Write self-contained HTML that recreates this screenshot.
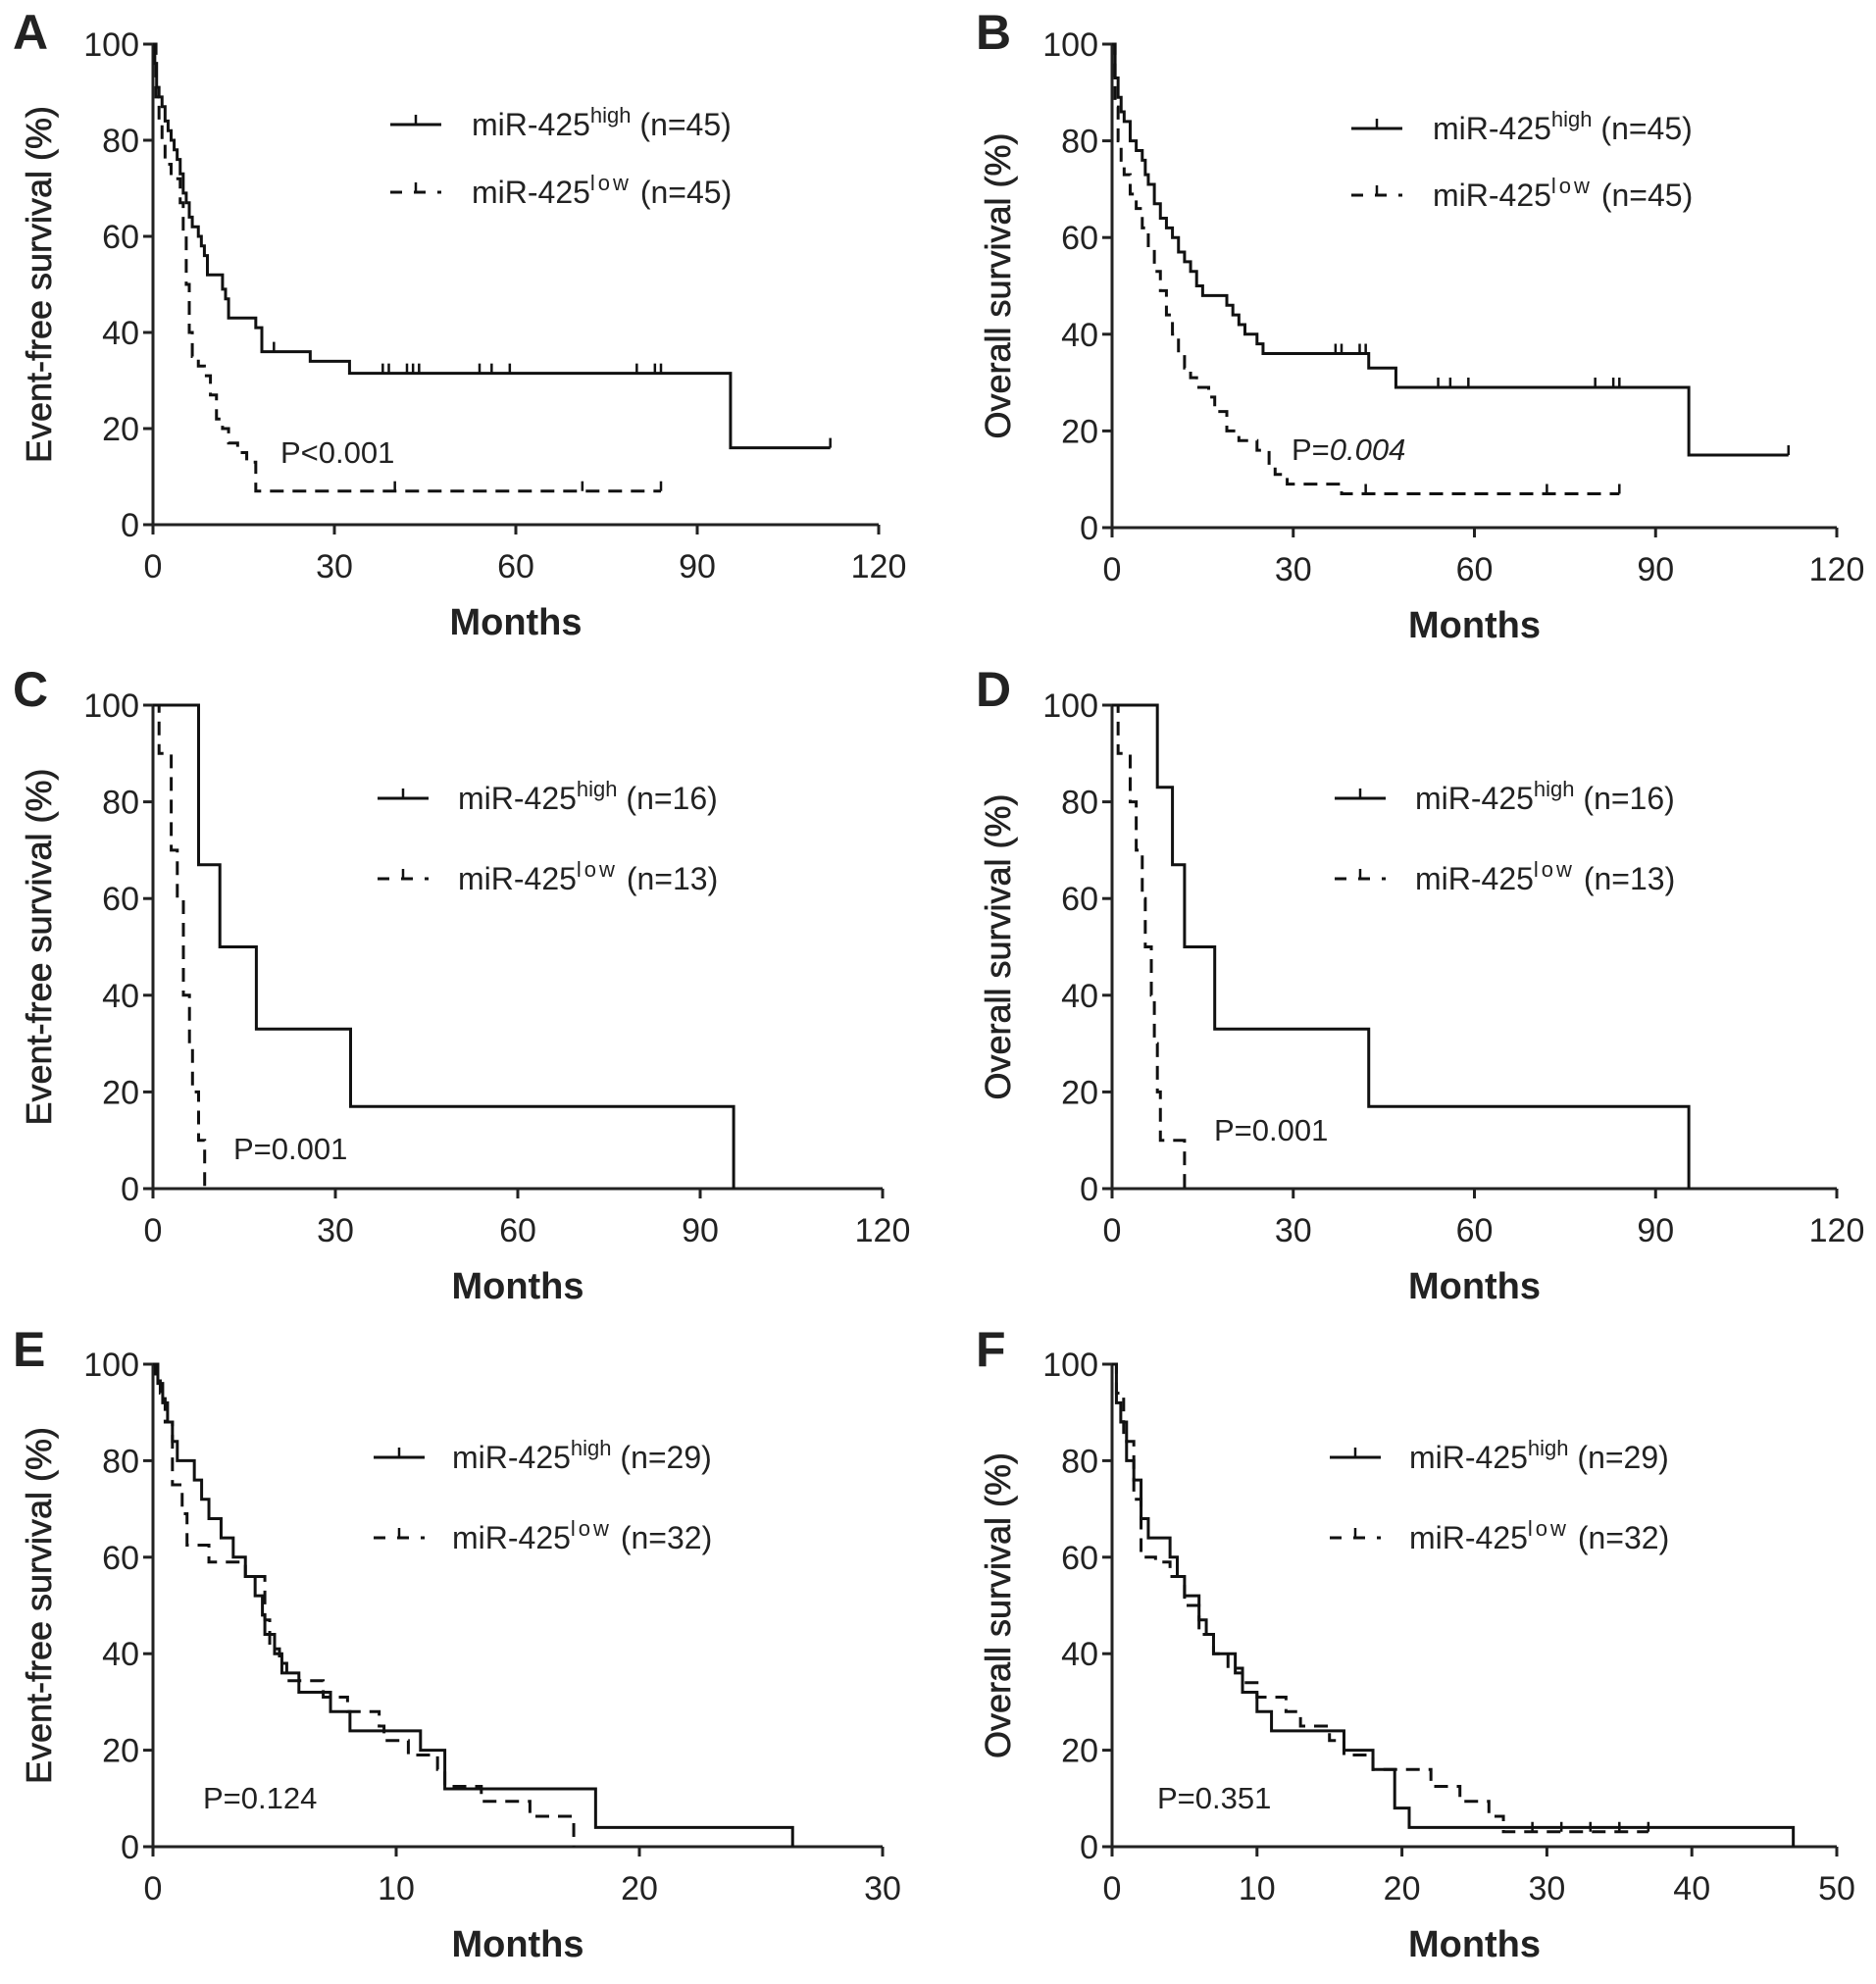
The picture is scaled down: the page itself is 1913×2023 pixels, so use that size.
<!DOCTYPE html>
<html><head><meta charset="utf-8"><style>
html,body{margin:0;padding:0;background:#fff}
svg{display:block}
text{font-family:"Liberation Sans",Arial,sans-serif;fill:#222}
</style></head><body>
<svg id="fig" width="1913" height="2023" viewBox="0 0 1913 2023" xmlns="http://www.w3.org/2000/svg"></svg>
<script>
// ---- data (time in months, survival in %) ----
const aHighT=[0,0.3,0.6,1,1.5,2,2.5,3,3.5,4,4.5,5,5.5,6,6.5,7.5,8,8.5,9,11.5,12,12.5,17,18,26,32.5,95.5];
const aHighS=[100,96,91,89,87,84,82,80,78,76,73,69,67,64,62,60,58,56,52,49,47,43,41,36,34,31.5,16];
const aHighEnd=112, aHighCens=[20,38,39,42,43,44,54,56,59,80,83,84,112];
const aLowT=[0,0.5,1,1.5,2,3,4.5,5,5.5,6,6.5,7.5,8.5,9.5,10.5,11.5,12.5,14,15.5,17];
const aLowS=[100,89,84,80,75,72,67,60,50,40,35,33,31,27,22,20,17,15,13,7];
const aLowEnd=84, aLowCens=[40,71,84];

const bHighT=[0,0.5,1,1.5,2,3,4,5,5.5,6,7,8,9,10,11,12,13,14,15,19,20,21,22,24,25,42.5,47,95.5];
const bHighS=[100,93,89,86,84,80,78,76,73,71,67,64,62,60,57,55,53,50,48,46,44,42,40,38,36,33,29,15];
const bHighEnd=112, bHighCens=[37,38,41,42,54,56,59,80,83,84,112];
const bLowT=[0,0.5,1,1.5,2,3,4,5,6,7,8,9,10,11,12,13,14,16,17,19,21,24,26,27,29,38];
const bLowS=[100,87,80,76,73,69,66,62,58,53,49,44,40,36,33,31,29,27,24,20,18,16,13,11,9,7];
const bLowEnd=84, bLowCens=[42,72,84];

const cHighT=[0,7.5,11,17,32.5,95.5];
const cHighS=[100,67,50,33,17,0];
const cHighEnd=95.5, cHighCens=[];
const cLowT=[0,1,3,4,5,6,6.5,7.5,8.5];
const cLowS=[100,90,70,60,40,30,20,10,0];
const cLowEnd=8.5, cLowCens=[];

const dHighT=[0,7.5,10,12,17,42.5,95.5];
const dHighS=[100,83,67,50,33,17,0];
const dHighEnd=95.5, dHighCens=[];
const dLowT=[0,1,3,4,5,5.5,6.5,7,7.5,8,12];
const dLowS=[100,90,80,70,60,50,40,30,20,10,0];
const dLowEnd=12, dLowCens=[];

const eHighT=[0,0.2,0.4,0.6,0.8,1,1.7,2,2.3,2.8,3.3,3.8,4.2,4.5,4.6,5,5.3,6,7.3,8.1,11,12,18.2,26.3];
const eHighS=[100,96,92,88,84,80,76,72,68,64,60,56,52,48,44,40,36,32,28,24,20,12,4,0];
const eHighEnd=26.3, eHighCens=[];
const eLowT=[0,0.1,0.3,0.5,0.8,1.2,1.4,2.3,3.8,4.6,4.8,5.2,5.5,7,8,9.3,9.5,10.5,11.7,12,13.5,15.5,17.3];
const eLowS=[100,97,94,88,75,69,62.5,59,56,47,41,38,34.4,31,28,25,22,19,16,12.5,9.4,6.3,0];
const eLowEnd=17.3, eLowCens=[];

const fHighT=[0,0.3,0.6,1,1.5,2,2.5,4,4.5,5,6,6.5,7,8.5,9,10,11,16,18,19.5,20.5,47];
const fHighS=[100,92,88,80,76,68,64,60,56,52,47,44,40,36,32,28,24,20,16,8,4,0];
const fHighEnd=47, fHighCens=[];
const fLowT=[0,0.3,0.8,1.5,2,3,4,5,6,7,8,9,10,12,13,15,16,18,22,24,26,27];
const fLowS=[100,94,84,72,60,59,56,50,44,40,37,34,31,28,25,22,19,16,12.5,9.4,6.3,3.1];
const fLowEnd=37, fLowCens=[29,31,33,35,37];

const xTicksA=[0,30,60,90,120], xTicksE=[0,10,20,30], xTicksF=[0,10,20,30,40,50];
const yTicks=[0,20,40,60,80,100];

const NS="http://www.w3.org/2000/svg";
const svg=document.getElementById('fig');
function mk(tag,attrs,parent,txt){const e=document.createElementNS(NS,tag);for(const k in attrs)e.setAttribute(k,attrs[k]);if(txt!==undefined)e.textContent=txt;(parent||svg).appendChild(e);return e;}

const panels=[
 {id:'a',L:'A',x0:156,x1:896,y100:45,y0:535,xmax:120,xt:xTicksA,yt:'Event-free survival (%)',n1:45,n2:45,leg:[398,481,127,196],p:['P<0.001',286,461,false],
  h:[aHighT,aHighS,aHighEnd,aHighCens],l:[aLowT,aLowS,aLowEnd,aLowCens],lx:13,ly:35},
 {id:'b',L:'B',x0:1134,x1:1873,y100:45,y0:538,xmax:120,xt:xTicksA,yt:'Overall survival (%)',n1:45,n2:45,leg:[1378,1461,131,199],p:['P=',1317,458,true],
  h:[bHighT,bHighS,bHighEnd,bHighCens],l:[bLowT,bLowS,bLowEnd,bLowCens],lx:995,ly:35},
 {id:'c',L:'C',x0:156,x1:900,y100:719,y0:1212,xmax:120,xt:xTicksA,yt:'Event-free survival (%)',n1:16,n2:13,leg:[385,467,814,896],p:['P=0.001',238,1171,false],
  h:[cHighT,cHighS,cHighEnd,cHighCens],l:[cLowT,cLowS,cLowEnd,cLowCens],lx:13,ly:705},
 {id:'d',L:'D',x0:1134,x1:1873,y100:719,y0:1212,xmax:120,xt:xTicksA,yt:'Overall survival (%)',n1:16,n2:13,leg:[1361,1443,814,896],p:['P=0.001',1238,1152,false],
  h:[dHighT,dHighS,dHighEnd,dHighCens],l:[dLowT,dLowS,dLowEnd,dLowCens],lx:995,ly:705},
 {id:'e',L:'E',x0:156,x1:900,y100:1391,y0:1883,xmax:30,xt:xTicksE,yt:'Event-free survival (%)',n1:29,n2:32,leg:[381,461,1486,1568],p:['P=0.124',207,1833,false],
  h:[eHighT,eHighS,eHighEnd,eHighCens],l:[eLowT,eLowS,eLowEnd,eLowCens],lx:13,ly:1378},
 {id:'f',L:'F',x0:1134,x1:1873,y100:1391,y0:1883,xmax:50,xt:xTicksF,yt:'Overall survival (%)',n1:29,n2:32,leg:[1356,1437,1486,1568],p:['P=0.351',1180,1833,false],
  h:[fHighT,fHighS,fHighEnd,fHighCens],l:[fLowT,fLowS,fLowEnd,fLowCens],lx:995,ly:1378}
];

function stepPath(T,S,end,X,Y){
  let d='M'+X(T[0])+','+Y(S[0]);
  for(let i=1;i<T.length;i++){d+=' H'+X(T[i])+' V'+Y(S[i]);}
  d+=' H'+X(end);
  return d;
}
function survAt(T,S,t){let v=S[0];for(let i=0;i<T.length;i++){if(T[i]<=t)v=S[i];}return v;}

panels.forEach(P=>{
  const g=mk('g',{},svg);
  
  
  const X=v=>P.x0+(P.x1-P.x0)*v/P.xmax;
  const Y=v=>P.y0+(P.y100-P.y0)*v/100;
  const lt=mk('text',{x:P.lx,y:P.ly+15,'font-size':50,'font-weight':'bold'},g,P.L);
  
  
  const ax=mk('path',{d:`M${P.x0},${P.y100} V${P.y0} H${P.x1}`,stroke:'#222','stroke-width':3,fill:'none'},g);
  
  
  yTicks.forEach(v=>{
    mk('line',{x1:P.x0-10,x2:P.x0,y1:Y(v),y2:Y(v),stroke:'#222','stroke-width':3},g);
    const t=mk('text',{x:P.x0-14,y:Y(v)+12,'font-size':34,'text-anchor':'end'},g,String(v));
    
    
  });
  P.xt.forEach(v=>{
    mk('line',{x1:X(v),x2:X(v),y1:P.y0,y2:P.y0+10,stroke:'#222','stroke-width':3},g);
    const t=mk('text',{x:X(v),y:P.y0+54,'font-size':34,'text-anchor':'middle'},g,String(v));
    
    
  });
  const xt=mk('text',{x:(P.x0+P.x1)/2,y:P.y0+112,'font-size':38,'font-weight':'bold','text-anchor':'middle'},g,'Months');
  
  
  const yc=(P.y0+P.y100)/2;
  const yx=P.x0-104;
  const yt=mk('text',{x:yx,y:yc,'font-size':36,'text-anchor':'middle',transform:`rotate(-90 ${yx} ${yc})`,stroke:'#222','stroke-width':0.6},g,P.yt);
  
  
  [[P.h,false,'high'],[P.l,true,'low']].forEach(([c,dash,nm])=>{
    const p=mk('path',{d:stepPath(c[0],c[1],c[2],X,Y),stroke:'#111','stroke-width':3,fill:'none'},g);
    if(dash)p.setAttribute('stroke-dasharray','14,9');
    
    
    c[3].forEach(t=>{
      const v=survAt(c[0],c[1],t);
      const m=mk('line',{x1:X(t),x2:X(t),y1:Y(v),y2:Y(v)-10,stroke:'#111','stroke-width':2.5},g);
      
      
    });
  });
  const [lx,tx,y1,y2]=P.leg;
  [[y1,false,'high',P.n1],[y2,true,'low',P.n2]].forEach(([yy,dash,nm,n])=>{
    const lg=mk('g',{},g);
    
    
    const ln=mk('line',{x1:lx,x2:lx+52,y1:yy,y2:yy,stroke:'#111','stroke-width':3},lg);
    if(dash)ln.setAttribute('stroke-dasharray','12,12');
    mk('line',{x1:lx+26,x2:lx+26,y1:yy,y2:yy-10,stroke:'#111','stroke-width':2.5},lg);
    const t=mk('text',{x:tx,y:yy+11,'font-size':32},lg);
    t.appendChild(document.createTextNode('miR-425'));
    mk('tspan',{'font-size':22,dy:-13,'letter-spacing':nm==='low'?3:0},t,nm);
    mk('tspan',{dy:13},t,' (n='+n+')');
  });
  const pt=mk('text',{x:P.p[1],y:P.p[2]+11,'font-size':31},g,P.p[0]);
  if(P.p[3]) mk('tspan',{'font-style':'italic'},pt,'0.004');
  
  
});
</script>
</body></html>
